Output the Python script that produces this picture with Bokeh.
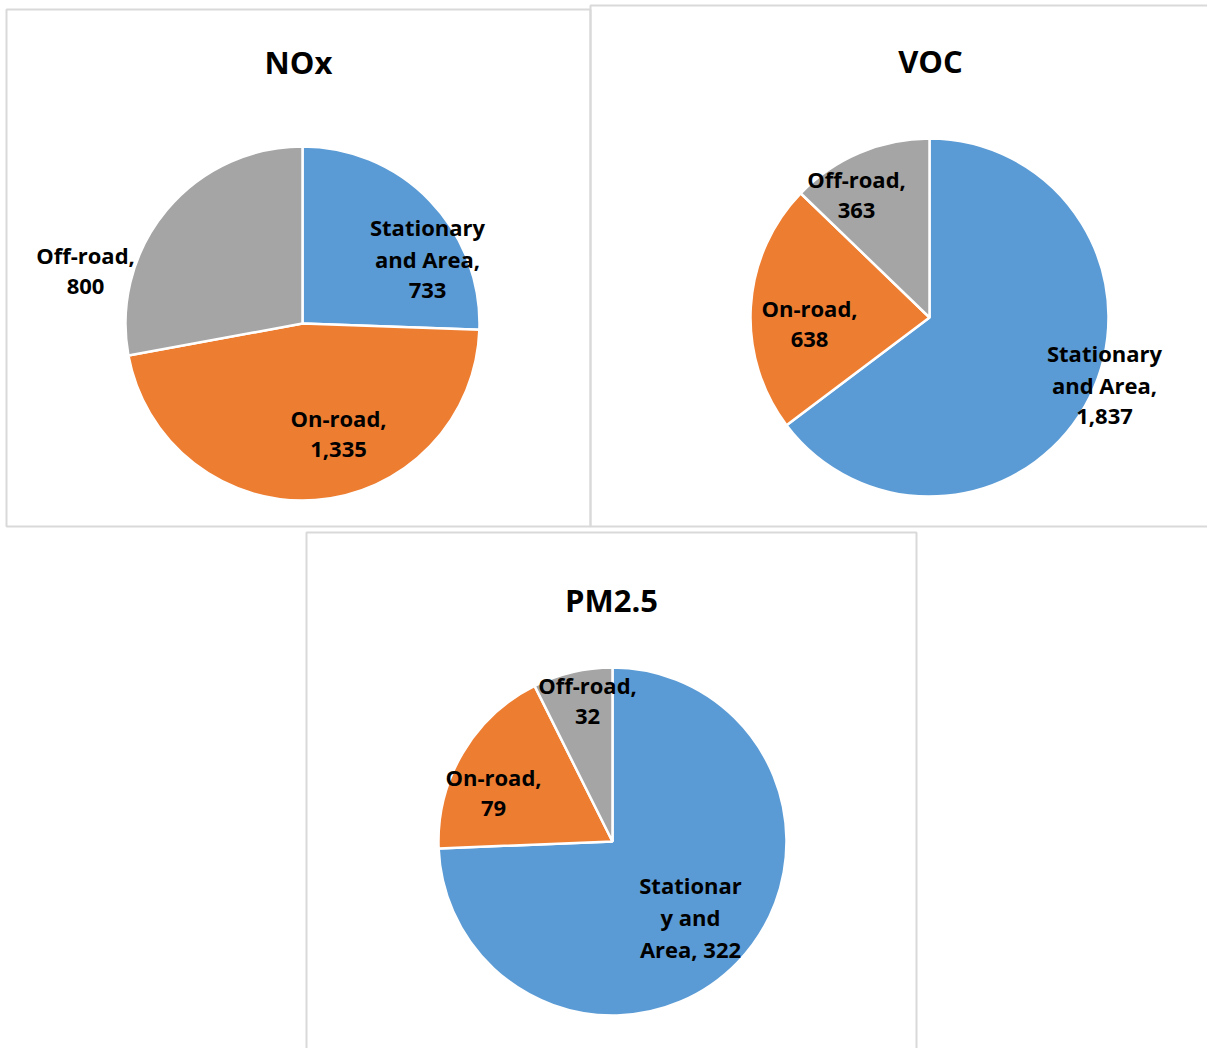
import textwrap
from bokeh.plotting import figure
from bokeh.models import Range1d, ColumnDataSource
from bokeh.core.properties import value
from bokeh.embed import file_html
from bokeh.resources import INLINE
import math

# ---- data ----
pollutants = ["NOx", "VOC", "PM2.5"]
categories = ["Stationary and Area", "On-road", "Off-road"]
nox = [733, 1335, 800]
voc = [1837, 638, 363]
pm25 = [322, 79, 32]
series = [nox, voc, pm25]

# ---- style / layout ----
colors = ["#5B9BD5", "#ED7D31", "#A5A5A5"]
FONT = value("Open Sans")
W, H = 1207, 1048
# pie centre (screen px), radius, title pos, wrap width
pies = [
    dict(c=(302, 323), r=177, title=(298, 61), wrap=10,
         labels=[(427, 258), (338, 433), (85, 270)]),
    dict(c=(929, 317), r=179, title=(930, 60), wrap=10,
         labels=[(1104, 384), (809, 323), (856, 194)]),
    dict(c=(612, 841), r=174, title=(611, 599), wrap=9,
         labels=[(690, 916), (493, 792), (587, 700)]),
]
boxes = [(6, 9, 590, 526), (590, 5, 1215, 526), (306, 532, 916, 1060)]
LINE_H = 32

p = figure(width=W, height=H, output_backend="svg", toolbar_location=None,
           x_range=Range1d(0, W), y_range=Range1d(-H, 0),
           x_axis_location=None, y_axis_location=None, min_border=0,
           background_fill_color="white", border_fill_color="white")
p.grid.visible = False
p.outline_line_color = None

# chart borders
for (x0, y0, x1, y1) in boxes:
    p.quad(left=[x0], right=[x1], top=[-y0], bottom=[-y1],
           fill_color=None, line_color="#D9D9D9", line_width=2)

for name, vals, cfg in zip(pollutants, series, pies):
    total = sum(vals)
    cum = 0.0
    starts, ends = [], []
    for v in vals:
        a0 = math.pi / 2 - 2 * math.pi * (cum + v) / total
        a1 = math.pi / 2 - 2 * math.pi * cum / total
        starts.append(a0)
        ends.append(a1)
        cum += v
    cx, cy = cfg["c"]
    src = ColumnDataSource(dict(x=[cx] * 3, y=[-cy] * 3, s=starts, e=ends, col=colors))
    p.wedge(x="x", y="y", radius=cfg["r"], start_angle="s", end_angle="e",
            fill_color="col", line_color="white", line_width=2.5, source=src)

    # title
    tx, ty = cfg["title"]
    p.text(x=[tx], y=[-ty], text=[name], text_font=FONT, text_font_style="bold",
           text_font_size="31px", text_align="center", text_baseline="middle",
           text_color="#000000")

    # data labels
    xs, ys, txt = [], [], []
    for cat, v, (lx, ly) in zip(categories, vals, cfg["labels"]):
        lines = textwrap.wrap(f"{cat}, {v:,}", cfg["wrap"], break_on_hyphens=False)
        n = len(lines)
        for i, line in enumerate(lines):
            xs.append(lx)
            ys.append(-(ly + (i - (n - 1) / 2) * LINE_H))
            txt.append(line)
    p.text(x=xs, y=ys, text=txt, text_font=FONT, text_font_style="bold",
           text_font_size="22px", text_align="center", text_baseline="middle",
           text_color="#000000")

open("out.html", "w").write(file_html(p, INLINE))
